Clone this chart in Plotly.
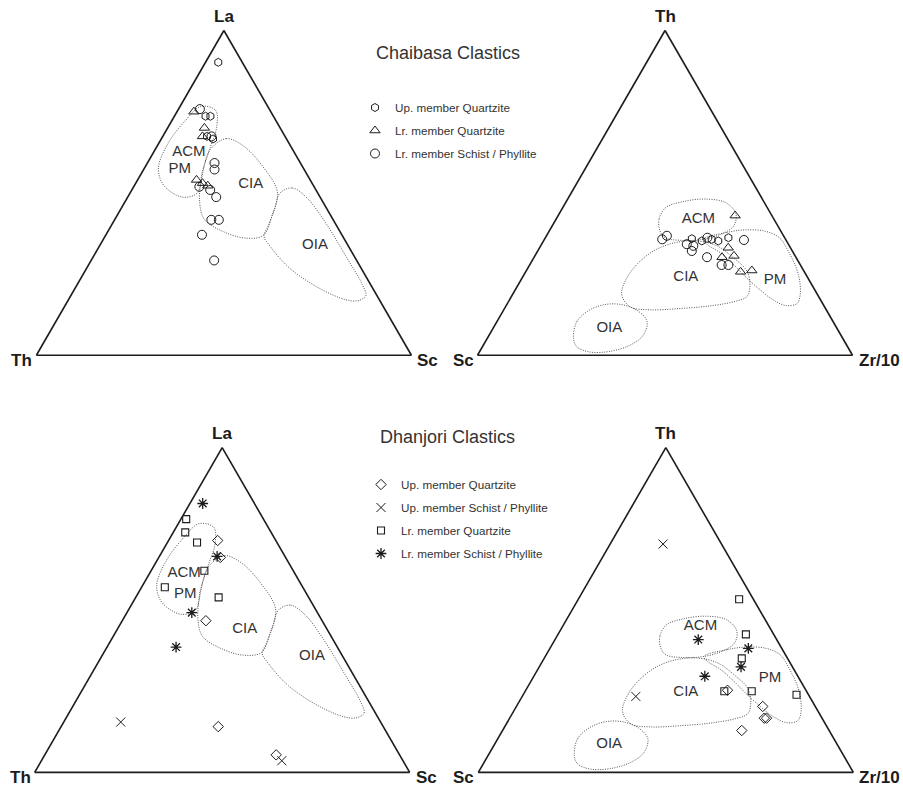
import plotly.graph_objects as go

W, H = 903, 786
FONT = "Liberation Sans, Arial, Helvetica, sans-serif"
INK = "#1c1c1c"
GREY = "#333333"
FIELD_LINE = "#555555"

# ---------------- Chaibasa clastics ----------------
# La-Th-Sc diagram, percent (La, Th, Sc)
chb_lts_up_qtz = [(90.2, 6.4, 3.4), (73.6, 18.1, 8.3), (73.6, 16.8, 9.6),
                  (67.4, 20.8, 11.8), (66.6, 19.6, 13.8)]
chb_lts_lr_qtz = [(75.0, 20.5, 4.5), (70.0, 20.2, 9.8), (67.4, 22.0, 10.6),
                  (54.0, 30.3, 15.7), (53.0, 29.2, 17.8), (52.2, 28.2, 19.6)]
chb_lts_lr_sch = [(75.8, 18.5, 5.7), (67.4, 19.6, 13.0), (59.2, 22.9, 17.9),
                  (57.2, 23.9, 18.9), (51.9, 30.6, 17.5), (50.9, 28.2, 20.9),
                  (48.7, 27.7, 23.6), (41.7, 32.5, 25.8), (41.7, 30.5, 27.8),
                  (37.1, 37.3, 25.6), (29.2, 38.0, 32.8)]
# Th-Sc-Zr/10 diagram, percent (Th, Sc, Zr/10)
chb_tsz_up_qtz = [(35.9, 24.9, 39.2), (35.2, 22.6, 42.2), (35.7, 19.7, 44.6),
                  (35.2, 18.2, 46.6), (36.2, 15.0, 48.8)]
chb_tsz_lr_qtz = [(43.0, 9.8, 47.2), (33.1, 16.6, 50.3), (30.2, 19.7, 50.1),
                  (30.6, 16.3, 53.1), (25.7, 17.0, 57.3), (26.1, 13.8, 60.1)]
chb_tsz_lr_sch = [(35.7, 32.9, 31.4), (36.8, 31.1, 32.1), (34.2, 27.1, 38.7),
                  (33.7, 25.6, 40.7), (32.1, 26.8, 41.1), (36.2, 20.6, 43.2),
                  (35.5, 11.2, 53.3), (30.2, 23.7, 46.1), (27.8, 21.0, 51.2),
                  (27.8, 19.2, 53.0)]

# ---------------- Dhanjori clastics ----------------
# La-Th-Sc diagram, percent (La, Th, Sc)
dhj_lts_up_qtz = [(71.4, 15.5, 13.1), (66.2, 17.4, 16.4), (46.7, 31.0, 22.3),
                  (14.1, 44.0, 41.9), (5.4, 32.9, 61.7)]
dhj_lts_up_sch = [(15.5, 69.3, 15.2), (3.6, 32.3, 64.1)]
dhj_lts_lr_qtz = [(78.0, 20.6, 1.4), (73.9, 22.9, 3.2), (70.8, 21.3, 7.9),
                  (62.1, 23.7, 14.2), (57.0, 36.8, 6.2), (53.9, 24.0, 22.1)]
dhj_lts_lr_sch = [(82.8, 13.8, 3.4), (66.5, 18.1, 15.4), (49.2, 33.5, 17.3),
                  (38.6, 43.0, 18.4)]
# Th-Sc-Zr/10 diagram, percent (Th, Sc, Zr/10)
dhj_tsz_up_qtz = [(25.3, 20.9, 53.8), (20.3, 14.0, 65.7), (16.7, 15.4, 67.9),
                  (16.7, 14.8, 68.5), (12.9, 23.3, 63.8)]
dhj_tsz_up_sch = [(70.3, 15.6, 14.1), (23.4, 46.3, 30.3)]
dhj_tsz_lr_qtz = [(53.3, 3.8, 42.9), (42.5, 7.4, 50.1), (35.1, 12.2, 52.7),
                  (25.0, 14.6, 60.4), (25.0, 21.9, 53.1), (23.9, 3.2, 72.9)]
dhj_tsz_lr_sch = [(40.9, 20.9, 38.2), (38.2, 8.9, 52.9), (32.5, 13.7, 53.8),
                  (29.6, 24.8, 45.6)]

# ---------------- Tectonic setting fields ----------------
# La-Th-Sc, percent (La, Th, Sc)
lts_acm_pm = [(76.6, 17.9, 5.5), (75.4, 14.5, 10.1), (70.1, 16.9, 13.0),
              (64.2, 21.5, 14.3), (56.5, 27.5, 16.0), (50.0, 32.1, 17.9),
              (48.7, 36.7, 14.6), (52.4, 39.9, 7.7), (57.7, 38.6, 3.7),
              (65.5, 32.0, 2.5), (72.3, 24.1, 3.6)]
lts_cia = [(63.3, 22.0, 14.7), (66.7, 16.0, 17.3), (64.5, 12.6, 22.9),
           (58.3, 10.6, 31.1), (50.3, 10.6, 39.1), (43.1, 15.6, 41.3),
           (36.9, 21.1, 42.0), (36.1, 26.3, 37.6), (38.2, 31.3, 30.5),
           (41.9, 34.3, 23.8), (47.8, 32.6, 19.6), (55.5, 28.0, 16.5)]
lts_oia = [(50.0, 10.0, 40.0), (51.5, 6.0, 42.5), (48.4, 3.6, 48.0),
           (41.0, 2.5, 56.5), (30.0, 2.2, 67.8), (22.0, 2.2, 75.8),
           (18.3, 3.0, 78.7), (16.8, 5.9, 77.3), (17.1, 8.9, 74.0),
           (20.5, 14.1, 65.4), (26.7, 19.0, 54.3), (33.5, 20.9, 45.6),
           (36.6, 21.0, 42.4), (39.7, 18.4, 41.9), (44.7, 14.2, 41.1)]
# Th-Sc-Zr/10, percent (Th, Sc, Zr/10)
tsz_acm = [(38.3, 32.2, 29.5), (42.1, 30.5, 27.4), (45.5, 27.0, 27.5),
           (47.3, 21.6, 31.1), (48.1, 15.3, 36.6), (47.0, 10.3, 42.7),
           (43.6, 9.3, 47.1), (39.9, 11.7, 48.4), (37.4, 16.1, 46.5),
           (35.7, 22.0, 42.3), (35.4, 28.3, 36.3), (36.2, 31.9, 31.9)]
tsz_cia = [(18.7, 52.2, 29.1), (24.0, 48.1, 27.9), (29.0, 42.1, 28.9),
           (32.7, 35.8, 31.5), (34.8, 29.4, 35.8), (35.2, 23.9, 40.9),
           (33.7, 19.3, 47.0), (30.1, 16.8, 53.1), (25.9, 15.2, 58.9),
           (21.5, 16.6, 61.9), (18.1, 19.1, 62.8), (16.6, 23.0, 60.4),
           (15.2, 30.4, 54.4), (14.4, 38.8, 46.8), (14.0, 47.0, 39.0),
           (14.9, 51.8, 33.3)]
tsz_pm = [(35.7, 22.0, 42.3), (37.8, 14.7, 47.5), (38.6, 9.4, 52.0),
          (38.2, 4.2, 57.6), (36.2, 1.4, 62.4), (32.1, 1.1, 66.8),
          (24.9, 2.0, 73.1), (18.7, 4.6, 76.7), (15.9, 6.9, 77.2),
          (15.3, 10.1, 74.6), (17.1, 12.7, 70.2), (20.2, 14.6, 65.2),
          (23.8, 16.3, 59.9), (28.0, 17.8, 54.2), (31.6, 19.5, 48.9),
          (34.2, 21.8, 44.0)]
tsz_oia = [(5.2, 71.8, 23.0), (10.4, 68.3, 21.3), (14.0, 63.0, 23.0),
           (15.7, 57.7, 26.6), (15.5, 53.4, 31.1), (13.5, 50.3, 36.2),
           (10.4, 49.6, 40.0), (6.2, 52.7, 41.1), (3.1, 57.8, 39.1),
           (1.2, 64.1, 34.7), (1.0, 69.5, 29.5), (2.6, 72.2, 25.2)]

# Field name positions, percent
chb_lts_labels = {"ACM": (62.5, 28.1, 9.4), "PM": (57.3, 33.1, 9.6),
                  "CIA": (52.7, 16.5, 30.8), "OIA": (33.8, 8.8, 57.4)}
chb_tsz_labels = {"ACM": (42.0, 20.1, 37.9), "CIA": (24.1, 32.4, 43.5),
                  "PM": (23.0, 9.2, 67.8), "OIA": (8.3, 60.7, 31.0)}
dhj_lts_labels = {"ACM": (61.3, 29.5, 9.2), "PM": (54.9, 32.4, 12.7),
                  "CIA": (44.0, 22.0, 34.0), "OIA": (35.9, 8.1, 56.0)}
dhj_tsz_labels = {"ACM": (45.1, 18.2, 36.7), "CIA": (24.7, 32.3, 43.0),
                  "PM": (28.9, 7.8, 63.3), "OIA": (8.8, 60.7, 30.5)}

# Legend entries: (name, symbol, size, outline width)
chb_series = [("Up. member Quartzite", "hexagon-open", 8, 1.0),
              ("Lr. member Quartzite", "triangle-up-open", 9, 1.0),
              ("Lr. member Schist / Phyllite", "circle-open", 9, 1.0)]
dhj_series = [("Up. member Quartzite", "diamond-open", 8, 1.0),
              ("Up. member Schist / Phyllite", "x-thin-open", 9, 1.0),
              ("Lr. member Quartzite", "square-open", 7, 1.1),
              ("Lr. member Schist / Phyllite", "asterisk-open", 9, 1.3)]


def abc(points):
    a, b, c = zip(*points)
    return list(a), list(b), list(c)


def closed(points):
    return list(points) + [points[0]]


panels = [
    dict(id="ternary", domain=dict(x=[0.0403, 0.4556], y=[0.5447, 0.9645]),
         names=("La", "Th", "Sc"), fields=[lts_acm_pm, lts_cia, lts_oia],
         labels=chb_lts_labels, data=[chb_lts_up_qtz, chb_lts_lr_qtz, chb_lts_lr_sch],
         series=chb_series, legend="legend", show=True),
    dict(id="ternary2", domain=dict(x=[0.5288, 0.9441], y=[0.5447, 0.9645]),
         names=("Th", "Sc", "Zr/10"), fields=[tsz_acm, tsz_cia, tsz_pm, tsz_oia],
         labels=chb_tsz_labels, data=[chb_tsz_up_qtz, chb_tsz_lr_qtz, chb_tsz_lr_sch],
         series=chb_series, legend="legend", show=False),
    dict(id="ternary3", domain=dict(x=[0.0384, 0.4537], y=[0.0140, 0.4338]),
         names=("La", "Th", "Sc"), fields=[lts_acm_pm, lts_cia, lts_oia],
         labels=dhj_lts_labels,
         data=[dhj_lts_up_qtz, dhj_lts_up_sch, dhj_lts_lr_qtz, dhj_lts_lr_sch],
         series=dhj_series, legend="legend2", show=True),
    dict(id="ternary4", domain=dict(x=[0.5297, 0.9450], y=[0.0140, 0.4338]),
         names=("Th", "Sc", "Zr/10"), fields=[tsz_acm, tsz_cia, tsz_pm, tsz_oia],
         labels=dhj_tsz_labels,
         data=[dhj_tsz_up_qtz, dhj_tsz_up_sch, dhj_tsz_lr_qtz, dhj_tsz_lr_sch],
         series=dhj_series, legend="legend2", show=False),
]

fig = go.Figure()
annotations = []
axis_style = dict(showgrid=False, showticklabels=False, ticks="", showline=True,
                  linecolor=INK, linewidth=1.6, min=0, title=dict(text=""))

for p in panels:
    sid = p["id"]
    # discrimination fields
    for field in p["fields"]:
        a, b, c = abc(closed(field))
        fig.add_trace(go.Scatterternary(
            a=a, b=b, c=c, subplot=sid, mode="lines", showlegend=False,
            hoverinfo="skip",
            line=dict(color=FIELD_LINE, width=1, dash="1px,1.4px",
                      shape="spline", smoothing=1.0)))
    # field names
    names = list(p["labels"].keys())
    a, b, c = abc(list(p["labels"].values()))
    fig.add_trace(go.Scatterternary(
        a=a, b=b, c=c, subplot=sid, mode="text", text=names, showlegend=False,
        hoverinfo="skip", textfont=dict(family=FONT, size=15, color=GREY)))
    # samples
    for pts, (name, symbol, size, lw) in zip(p["data"], p["series"]):
        a, b, c = abc(pts)
        fig.add_trace(go.Scatterternary(
            a=a, b=b, c=c, subplot=sid, mode="markers", name=name,
            legend=p["legend"], legendgroup=p["legend"] + name,
            showlegend=p["show"],
            marker=dict(symbol=symbol, size=size, color=INK,
                        line=dict(color=INK, width=lw))))

    fig.update_layout({sid: dict(
        domain=p["domain"], sum=100, bgcolor="white",
        aaxis=axis_style, baxis=axis_style, caxis=axis_style)})

    # apex names, placed from the triangle that the domain produces
    x0, x1 = p["domain"]["x"]
    y0, y1 = p["domain"]["y"]
    bw, bh = (x1 - x0) * W, (y1 - y0) * H
    w = min(bw, bh * 2 / 3 ** 0.5)
    h = w * 3 ** 0.5 / 2
    cx, cy = (x0 + x1) / 2 * W, (1 - (y0 + y1) / 2) * H
    left, right, top, base = cx - w / 2, cx + w / 2, cy - h / 2, cy + h / 2
    vfont = dict(family=FONT, size=17, color=INK, weight="bold")
    for text, px, py, anchor in [(p["names"][0], cx, top - 14, "center"),
                                 (p["names"][1], left - 2, base + 5, "right"),
                                 (p["names"][2], right + 4, base + 5, "left")]:
        annotations.append(dict(text=text, x=px / W, y=1 - py / H, xref="paper",
                                yref="paper", xanchor=anchor, yanchor="middle",
                                showarrow=False, font=vfont))

for text, px, py in [("Chaibasa Clastics", 448, 53), ("Dhanjori Clastics", 447, 437)]:
    annotations.append(dict(text=text, x=px / W, y=1 - py / H, xref="paper",
                            yref="paper", xanchor="center", yanchor="middle",
                            showarrow=False,
                            font=dict(family=FONT, size=18, color=GREY)))

legend_style = dict(xanchor="left", yanchor="top", bgcolor="rgba(0,0,0,0)",
                    borderwidth=0, itemwidth=30, tracegroupgap=4,
                    traceorder="grouped",
                    font=dict(family=FONT, size=11.7, color=GREY))
fig.update_layout(
    width=W, height=H, margin=dict(l=0, r=0, t=0, b=0),
    paper_bgcolor="white", plot_bgcolor="white",
    font=dict(family=FONT, color=GREY), hovermode=False,
    annotations=annotations,
    legend=dict(legend_style, x=355 / W, y=1 - 93 / H),
    legend2=dict(legend_style, x=361 / W, y=1 - 470 / H),
)

fig.write_html("out.html")
